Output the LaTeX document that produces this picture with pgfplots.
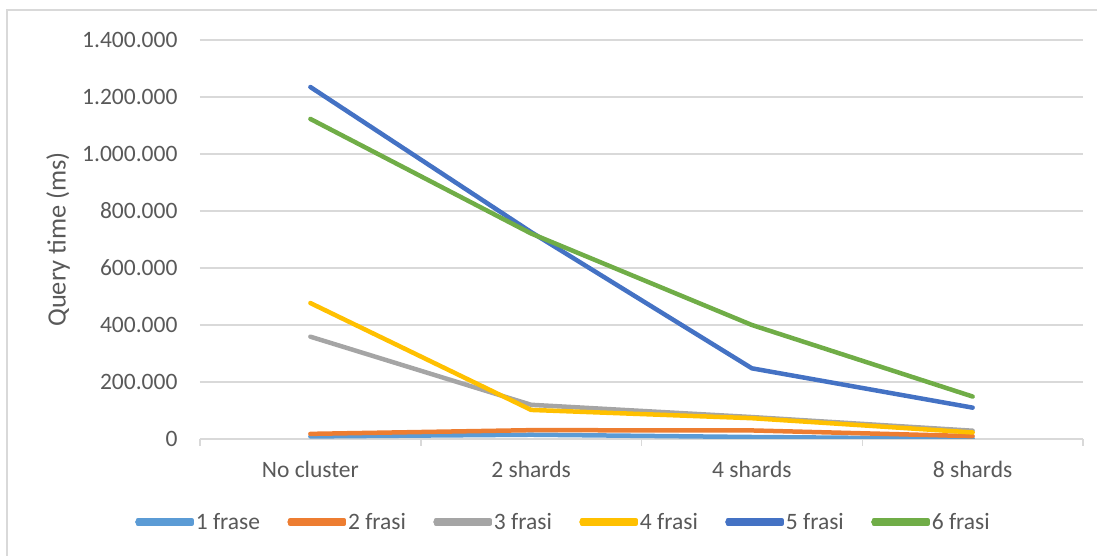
\documentclass[border=0pt]{standalone}
\usepackage{pgfplots}
\pgfplotsset{compat=1.18}
\usepackage{fontspec}
\setmainfont{Carlito}

\definecolor{txt}{HTML}{595959}
\definecolor{gridc}{HTML}{D9D9D9}
\definecolor{cA}{HTML}{5B9BD5}
\definecolor{cB}{HTML}{ED7D31}
\definecolor{cC}{HTML}{A5A5A5}
\definecolor{cD}{HTML}{FFC000}
\definecolor{cE}{HTML}{4472C4}
\definecolor{cF}{HTML}{70AD47}

\newcommand{\chartfont}{\fontsize{23.5}{28}\selectfont}

\begin{document}
\begin{tikzpicture}[x=1pt,y=1pt]
\useasboundingbox (-200,-117) rectangle (897,439);
% chart frame (only top and left visible in the crop)
\draw[gridc, line width=1.5pt] (-193,-117) -- (-193,429) -- (897,429);
\begin{axis}[
    scale only axis,
    width=883pt, height=399pt,
    xmin=0, xmax=4, ymin=0, ymax=1400000,
    axis x line*=bottom, axis y line*=left,
    x axis line style={gridc, line width=1.5pt},
    y axis line style={draw=none},
    xtick={0.5,1.5,2.5,3.5},
    xticklabels={No cluster,2 shards,4 shards,8 shards},
    major tick length=0pt,
    extra x ticks={0,1,2,3,4},
    extra x tick labels={},
    extra x tick style={major tick length=7pt, tick style={gridc, line width=1.5pt}, tick align=outside, grid=none},
    ytick={0,200000,...,1400000},
    ymajorgrids,
    grid style={gridc, line width=1.5pt},
    scaled y ticks=false,
    yticklabel style={/pgf/number format/fixed, /pgf/number format/1000 sep={.}, /pgf/number format/assume math mode=true, xshift=-19pt},
    ticklabel style={font=\chartfont, text=txt},
    xticklabel style={yshift=-19pt},
    ylabel={Query time (ms)},
    every axis y label/.style={at={(rel axis cs:-0.1608,0.5)}, rotate=90, anchor=center, font=\fontsize{26.4}{30}\selectfont, text=txt},
    legend columns=6,
    legend style={at={(rel axis cs:0.412,-0.208)}, anchor=center, draw=none, font=\chartfont, text=txt,
        nodes={inner xsep=2pt},
        /tikz/every even column/.append style={column sep=26pt}},
    legend image code/.code={\path (0pt,-2pt) rectangle (53.5pt,2pt);
        \draw[#1, overlay, line width=4.5pt, line cap=round] (-0.75pt,0pt) -- (51.75pt,0pt);},
    every axis plot/.append style={line width=4.5pt, line join=round, line cap=round, mark=none},
]
\addplot[cA] coordinates {(0.5,9000) (1.5,15000) (2.5,7000) (3.5,1000)};
\addlegendentry{1 frase}
\addplot[cB] coordinates {(0.5,18000) (1.5,31000) (2.5,30000) (3.5,10000)};
\addlegendentry{2 frasi}
\addplot[cC] coordinates {(0.5,359000) (1.5,120000) (2.5,77000) (3.5,29000)};
\addlegendentry{3 frasi}
\addplot[cD] coordinates {(0.5,477000) (1.5,102000) (2.5,73000) (3.5,23000)};
\addlegendentry{4 frasi}
\addplot[cE] coordinates {(0.5,1235000) (1.5,726000) (2.5,248000) (3.5,110000)};
\addlegendentry{5 frasi}
\addplot[cF] coordinates {(0.5,1123000) (1.5,721000) (2.5,400000) (3.5,149000)};
\addlegendentry{6 frasi}
\end{axis}
\end{tikzpicture}
\end{document}
